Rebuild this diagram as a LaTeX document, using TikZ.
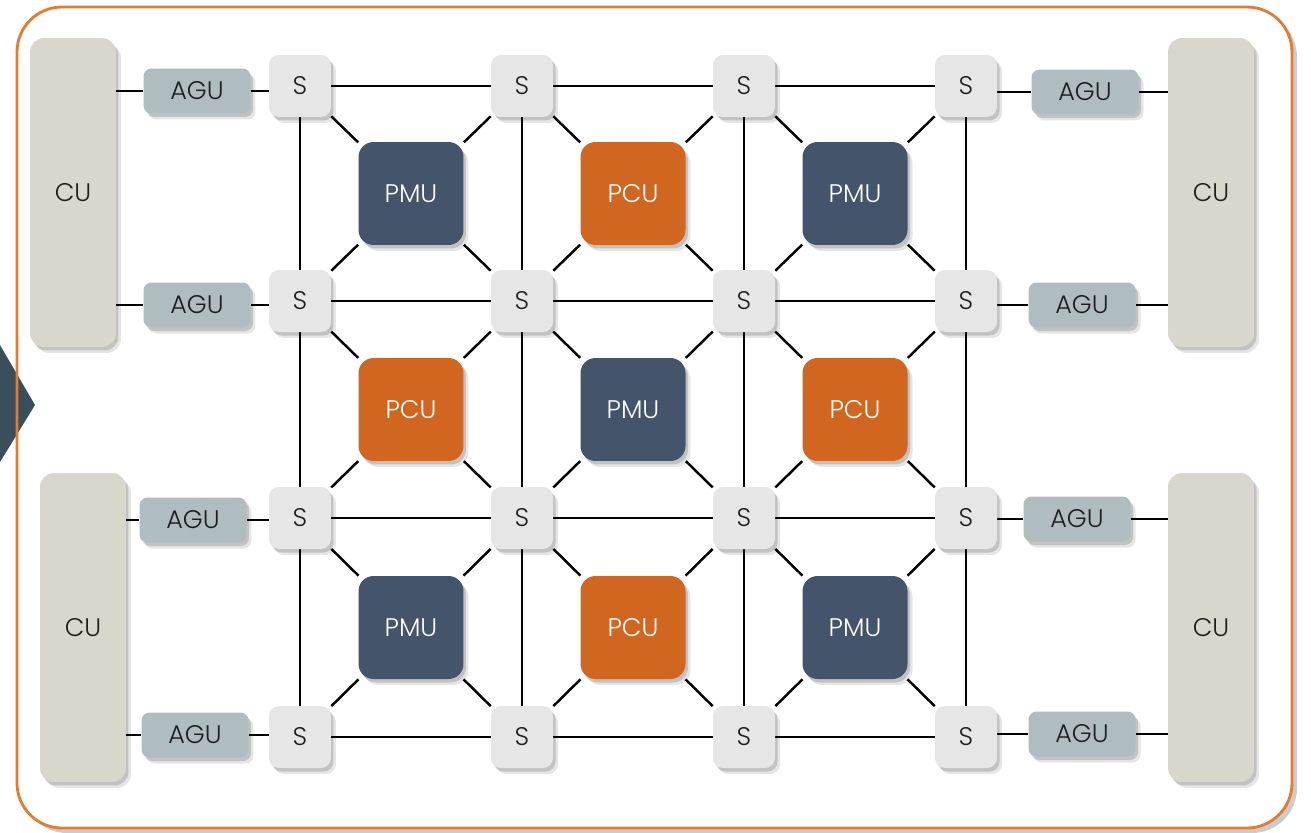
\documentclass[tikz,border=0pt]{standalone}
\usepackage{fontspec}
\setmainfont{Poppins}[UprightFont={* Light}]
\usepackage{tikz}
\usetikzlibrary{positioning, shadows, backgrounds, calc}

\definecolor{frameorange}{HTML}{E57A30}
\definecolor{pcuorange}{HTML}{D06620}
\definecolor{pmublue}{HTML}{44546A}
\definecolor{agugrey}{HTML}{AFBDC1}
\definecolor{cubeige}{HTML}{D9D7CB}
\definecolor{swgrey}{HTML}{E6E6E6}
\definecolor{chevron}{HTML}{3B4E5C}
\definecolor{labeltext}{HTML}{1E1E1E}

\begin{document}
\begin{tikzpicture}[x=0.02cm, y=-0.02cm,
    unit/.style={inner sep=0pt, text=labeltext, font=\fontsize{14.5}{16}\selectfont,
        drop shadow={shadow xshift=0.1cm, shadow yshift=-0.12cm, fill=black, opacity=0.1},
        drop shadow={shadow xshift=0.05cm, shadow yshift=-0.07cm, fill=black, opacity=0.15}},
    sw/.style={unit, fill=swgrey, minimum size=1.24cm, rounded corners=0.2cm},
    blk/.style={unit, fill=#1, text=white, minimum width=2.1cm, minimum height=2.06cm, rounded corners=0.3cm},
    agu/.style={unit, fill=agugrey, minimum width=2.14cm, minimum height=0.9cm, rounded corners=0.16cm},
    cu/.style={unit, fill=cubeige, minimum width=1.72cm, minimum height=6.18cm, rounded corners=0.28cm},
    link/.style={line width=1.4pt, black}]

    \useasboundingbox (0,0) rectangle (1311,832);

    % switches
    \foreach \r/\y in {1/86, 2/301, 3/518, 4/737}
        \foreach \c/\x in {1/300, 2/522, 3/744, 4/966}
            \node[sw] (s-\r-\c) at (\x,\y) {S};

    % compute and memory units
    \foreach \r/\c/\kind/\col in {1/1/PMU/pmublue, 1/2/PCU/pcuorange, 1/3/PMU/pmublue,
                                  2/1/PCU/pcuorange, 2/2/PMU/pmublue, 2/3/PCU/pcuorange,
                                  3/1/PMU/pmublue, 3/2/PCU/pcuorange, 3/3/PMU/pmublue} {
        \pgfmathtruncatemacro{\rn}{\r+1}
        \pgfmathtruncatemacro{\cn}{\c+1}
        \node[blk=\col] (b-\r-\c) at ($(s-\r-\c)!0.5!(s-\rn-\cn)$) {\kind};
    }

    % address generators
    \foreach \r/\xl/\yl/\xr/\yr in {1/197/91/1085/92, 2/197/305/1082/305,
                                    3/193/520/1077/519, 4/195/735/1082/734} {
        \node[agu] (agu-l-\r) at (\xl,\yl) {AGU};
        \node[agu] (agu-r-\r) at (\xr,\yr) {AGU};
    }

    % coalescing units
    \node[cu] (cu-l-1) at (73,192.5) {CU};
    \node[cu] (cu-l-2) at (83,627.5) {CU};
    \node[cu] (cu-r-1) at (1211,192.5) {CU};
    \node[cu] (cu-r-2) at (1211,627.5) {CU};

    \begin{scope}[on background layer]
        \fill[white, drop shadow={shadow xshift=0.1cm, shadow yshift=-0.1cm, fill=black, opacity=0.2}]
            (17,7) [rounded corners=0.9cm] rectangle (1292,828);
        \fill[chevron] (0,345) -- (35,405) -- (0,462) -- cycle;
        \draw[frameorange, line width=1.6pt] (17,7) [rounded corners=0.9cm] rectangle (1292,828);

        \foreach \r in {1,...,4}
            \foreach \c in {1,2,3} {
                \pgfmathtruncatemacro{\cn}{\c+1}
                \draw[link] (s-\r-\c) -- (s-\r-\cn);
                \draw[link] (s-\c-\r) -- (s-\cn-\r);
            }
        \foreach \r in {1,2,3}
            \foreach \c in {1,2,3} {
                \pgfmathtruncatemacro{\rn}{\r+1}
                \pgfmathtruncatemacro{\cn}{\c+1}
                \draw[link] (b-\r-\c) -- (s-\r-\c);
                \draw[link] (b-\r-\c) -- (s-\r-\cn);
                \draw[link] (b-\r-\c) -- (s-\rn-\c);
                \draw[link] (b-\r-\c) -- (s-\rn-\cn);
            }
        \foreach \r/\u in {1/1, 2/1, 3/2, 4/2} {
            \draw[link] (agu-l-\r) -- (agu-l-\r -| s-\r-1);
            \draw[link] (agu-l-\r) -- (agu-l-\r -| cu-l-\u);
            \draw[link] (agu-r-\r) -- (agu-r-\r -| s-\r-4);
            \draw[link] (agu-r-\r) -- (agu-r-\r -| cu-r-\u);
        }
    \end{scope}
\end{tikzpicture}
\end{document}
